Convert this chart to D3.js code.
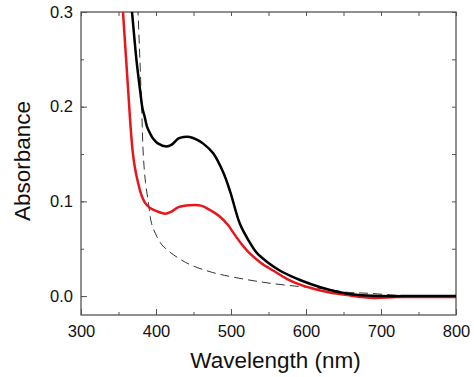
<!DOCTYPE html>
<html>
<head>
<meta charset="utf-8">
<script src="https://cdn.jsdelivr.net/npm/d3@7"></script>
<style>
  body { margin: 0; background: #fff; }
  text { font-family: Arial, "Liberation Sans", sans-serif; fill: #111; }
</style>
</head>
<body>
<div id="chart-area"></div>
<script>
// DATA
const xTicks = [300, 400, 500, 600, 700, 800]
const yTicks = [0.0, 0.1, 0.2, 0.3]

// black curve
const blackWl  = [362, 368, 374, 379, 382, 385, 388, 392, 396, 403, 414, 421, 430, 437, 445, 455, 463, 476, 490, 499, 512, 524, 535, 550, 565, 580, 592, 609, 625, 645, 670, 700, 750, 800]
const blackAbs = [0.35, 0.30, 0.249, 0.216, 0.198, 0.189, 0.179, 0.172, 0.1665, 0.161, 0.158, 0.16, 0.1665, 0.168, 0.168, 0.165, 0.161, 0.151, 0.130, 0.110, 0.076, 0.058, 0.045, 0.035, 0.027, 0.021, 0.017, 0.012, 0.008, 0.004, 0.001, 0.0, 0.0, 0.0]

// red curve
const redWl  = [352, 356, 363, 366, 369, 372, 376, 380, 385, 392, 403, 412, 420, 430, 445, 460, 468, 485, 496, 503, 514, 525, 540, 556, 575, 592, 609, 630, 655, 690, 720, 760, 800]
const redAbs = [0.35, 0.30, 0.216, 0.18, 0.152, 0.135, 0.12, 0.108, 0.099, 0.093, 0.089, 0.087, 0.089, 0.094, 0.096, 0.0955, 0.0926, 0.084, 0.075, 0.067, 0.055, 0.045, 0.035, 0.027, 0.018, 0.012, 0.008, 0.004, 0.001, -0.002, -0.001, -0.001, -0.001]

// dashed curve
const dashWl  = [373, 376, 379, 381, 383, 386, 390, 394, 401, 408, 416, 434, 449, 475, 503, 548, 592, 620, 655, 681, 720, 760, 800]
const dashAbs = [0.35, 0.30, 0.24, 0.196, 0.15, 0.12, 0.098, 0.077, 0.063, 0.054, 0.048, 0.038, 0.032, 0.025, 0.020, 0.014, 0.010, 0.008, 0.004, 0.003, 0.001, 0.0, -0.001]

// SVG
const W = 474, H = 377
const margin = { left: 81, top: 12, right: 18, bottom: 62 }
const iw = W - margin.left - margin.right
const ih = H - margin.top - margin.bottom

const svg = d3.select('#chart-area')
              .append('svg')
              .attr('width', W)
              .attr('height', H)

const g = svg.append('g').attr('transform', `translate(${margin.left},${margin.top})`)

const x = d3.scaleLinear().domain([300, 800]).range([0, iw])
const y = d3.scaleLinear().domain([-0.02, 0.3]).range([ih, 0])

g.append('clipPath').attr('id', 'clip')
 .append('rect').attr('width', iw).attr('height', ih)

// AXES (ticks point inward, minor ticks halfway)
const axisColor = '#555'
const xMinor = d3.range(300, 801, 50)
const yMinor = d3.range(0, 0.301, 0.05)

g.append('g').attr('transform', `translate(0,${ih})`)
  .call(d3.axisBottom(x).tickValues(xTicks).tickSize(-6).tickPadding(10).tickFormat(d3.format('d')))
g.append('g')
  .call(d3.axisTop(x).tickValues(xMinor).tickSize(-4).tickFormat(''))
g.append('g').attr('transform', `translate(0,${ih})`)
  .call(d3.axisBottom(x).tickValues(xMinor).tickSize(-3).tickFormat(''))
g.append('g')
  .call(d3.axisLeft(y).tickValues(yTicks).tickSize(-6).tickPadding(8).tickFormat(d3.format('.1f')))
g.append('g')
  .call(d3.axisLeft(y).tickValues(yMinor).tickSize(-3).tickFormat(''))
g.append('g').attr('transform', `translate(${iw},0)`)
  .call(d3.axisRight(y).tickValues(yMinor).tickSize(-4).tickFormat(''))

g.selectAll('.tick line').attr('stroke', axisColor)
g.selectAll('.tick text').style('font-size', '16.5px').attr('fill', '#111')
// the domain paths have outer ticks; draw a clean frame instead
g.selectAll('.domain').remove()
g.append('rect')
 .attr('width', iw).attr('height', ih)
 .attr('fill', 'none').attr('stroke', axisColor).attr('stroke-width', 1.3)

// LINES
const line = d3.line()
  .x(d => x(d[0]))
  .y(d => y(d[1]))
  .curve(d3.curveCatmullRom.alpha(0.5))

const plot = g.append('g').attr('clip-path', 'url(#clip)')

plot.append('path')
    .datum(d3.zip(dashWl, dashAbs))
    .attr('d', line)
    .attr('fill', 'none')
    .attr('stroke', '#333')
    .attr('stroke-width', 1)
    .attr('stroke-dasharray', '9,5')

plot.append('path')
    .datum(d3.zip(redWl, redAbs))
    .attr('d', line)
    .attr('fill', 'none')
    .attr('stroke', '#e8161b')
    .attr('stroke-width', 2.5)

plot.append('path')
    .datum(d3.zip(blackWl, blackAbs))
    .attr('d', line)
    .attr('fill', 'none')
    .attr('stroke', '#000')
    .attr('stroke-width', 2.5)

// AXIS TITLES
svg.append('text')
   .attr('x', margin.left + iw / 2 + 7)
   .attr('y', 368)
   .attr('text-anchor', 'middle')
   .style('font-size', '22.5px')
   .text('Wavelength (nm)')

svg.append('text')
   .attr('transform', `translate(30,161) rotate(-90)`)
   .attr('text-anchor', 'middle')
   .style('font-size', '22.5px')
   .text('Absorbance')
</script>
</body>
</html>
